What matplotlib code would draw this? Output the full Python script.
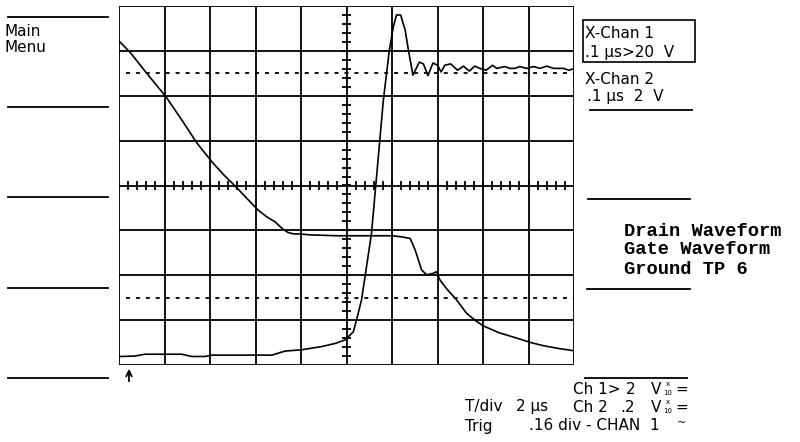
import numpy as np
import matplotlib
matplotlib.use("Agg")
import matplotlib.pyplot as plt
from matplotlib.patches import Rectangle

# trace 1: fast pulse with ringing (divisions)
ch1_t = [0.0, 0.06, 0.35, 0.57, 1.38, 1.6, 1.89, 2.04, 2.6, 3.36, 3.65, 4.02, 4.45, 4.75,
         4.97, 5.15, 5.22, 5.33, 5.44, 5.55, 5.68, 5.81, 5.94, 6.03, 6.10, 6.19, 6.29, 6.36,
         6.46, 6.60, 6.69, 6.79, 6.90, 7.00, 7.08, 7.16, 7.29, 7.44, 7.57, 7.70, 7.82, 7.93,
         8.07, 8.21, 8.30, 8.48, 8.59, 8.70, 8.81, 8.96, 9.11, 9.25, 9.40, 9.55, 9.77, 9.88, 10.0]
ch1_v = [-3.81, -3.81, -3.80, -3.76, -3.76, -3.81, -3.81, -3.78, -3.78, -3.78, -3.69, -3.66,
         -3.59, -3.52, -3.44, -3.26, -3.0, -2.55, -1.81, -1.06, 0.42, 1.90, 3.00, 3.54, 3.80,
         3.80, 3.46, 3.02, 2.46, 2.75, 2.71, 2.45, 2.73, 2.68, 2.53, 2.68, 2.71, 2.57, 2.66,
         2.55, 2.66, 2.61, 2.57, 2.68, 2.61, 2.65, 2.61, 2.61, 2.65, 2.61, 2.65, 2.61, 2.66,
         2.61, 2.61, 2.57, 2.60]

# trace 2: slow fall, plateau, second fall
ch2_t = [0.0, 0.25, 0.61, 1.03, 1.40, 1.71, 2.04, 2.30, 2.59, 2.85, 3.06, 3.25, 3.43, 3.60,
         3.72, 3.85, 3.98, 4.2, 4.5, 4.8, 5.1, 5.4, 5.7, 6.0, 6.18, 6.40, 6.51, 6.65, 6.76,
         6.90, 6.98, 7.05, 7.20, 7.42, 7.64, 7.85, 8.01, 8.35, 8.74, 9.05, 9.33, 9.65, 9.98]
ch2_v = [3.22, 2.96, 2.50, 1.98, 1.43, 0.95, 0.53, 0.24, -0.05, -0.33, -0.55, -0.70, -0.81,
         -0.97, -1.05, -1.08, -1.08, -1.10, -1.11, -1.12, -1.12, -1.12, -1.12, -1.12, -1.14,
         -1.18, -1.44, -1.88, -1.99, -1.96, -1.92, -2.10, -2.30, -2.55, -2.85, -3.02, -3.13,
         -3.28, -3.40, -3.50, -3.57, -3.63, -3.68]

ref_levels = [2.5, -2.5]

W, H = 800, 442
fig = plt.figure(figsize=(W / 100, H / 100), dpi=100)
fig.patch.set_facecolor("white")

# scope screen
ax = fig.add_axes([119 / W, 1 - 365 / H, 455 / W, 359 / H])
ax.set_xlim(0, 10)
ax.set_ylim(-4, 4)
ax.axis("off")
lw = 1.3
for x in range(0, 11):
    ax.plot([x, x], [-4, 4], color="black", lw=lw, solid_capstyle="butt")
for y in range(-4, 5):
    ax.plot([0, 10], [y, y], color="black", lw=lw, solid_capstyle="butt")

# minor ticks on centre axes
tx = np.arange(0.2, 10, 0.2)
ax.vlines(tx, -0.1, 0.1, color="black", lw=lw)
ty = np.arange(-3.8, 4, 0.2)
ax.hlines(ty, 5 - 0.09, 5 + 0.09, color="black", lw=lw)

for lvl in ref_levels:
    ax.plot([0.15, 10], [lvl, lvl], color="black", lw=lw, dashes=(2.2, 3.3))

ax.plot(ch1_t, ch1_v, color="black", lw=1.2)
ax.plot(ch2_t, ch2_v, color="black", lw=1.2)

# annotations in pixel space
ov = fig.add_axes([0, 0, 1, 1], zorder=-1)
ov.set_xlim(0, W)
ov.set_ylim(H, 0)
ov.axis("off")

for y in [17, 107, 197, 288, 378]:
    ov.plot([8, 108], [y, y], color="black", lw=1.3)
for y, x0, x1 in [(110, 590, 692), (199, 588, 690), (289, 587, 690), (378, 585, 687)]:
    ov.plot([x0, x1], [y, y], color="black", lw=1.3)

ov.add_patch(Rectangle((583, 20), 112, 42, fill=False, ec="black", lw=1.2))

sf = dict(family="DejaVu Sans", fontsize=11, color="black", va="center")
ov.text(5, 32, "Main", **sf)
ov.text(5, 48, "Menu", **sf)
ov.text(585, 33, "X-Chan 1", **sf)
ov.text(585, 52, ".1 \u03bcs>20  V", **sf)
ov.text(585, 79, "X-Chan 2", **sf)
ov.text(587, 96, ".1 \u03bcs  2  V", **sf)

mf = dict(family="Liberation Mono", fontsize=13.5, weight="bold", color="black", va="center")
ov.text(624, 231, "Drain Waveform", **mf)
ov.text(624, 250, "Gate Waveform", **mf)
ov.text(624, 269, "Ground TP 6", **mf)

ov.text(573, 389, "Ch 1>", **sf)
ov.text(626, 389, "2", **sf)
ov.text(651, 389, "V", **sf)
ov.text(465, 407, "T/div", **sf)
ov.text(516, 407, "2 \u03bcs", **sf)
ov.text(573, 407, "Ch 2", **sf)
ov.text(620, 407, ".2", **sf)
ov.text(651, 407, "V", **sf)
for y in [389, 407]:
    ov.text(668, y - 5, "x", fontsize=5, ha="center", va="center")
    ov.text(668, y + 4, "10", fontsize=5, ha="center", va="center")
    ov.text(675, y, "=", **sf)
ov.text(465, 426, "Trig", **sf)
ov.text(529, 426, ".16 div - CHAN  1", **sf)
ov.text(677, 423, "~", fontsize=8, va="center")

ov.annotate("", xy=(129, 366), xytext=(129, 384),
            arrowprops=dict(arrowstyle="->", lw=1.3, color="black"))

fig.savefig("out.png", dpi=100, facecolor="white")
